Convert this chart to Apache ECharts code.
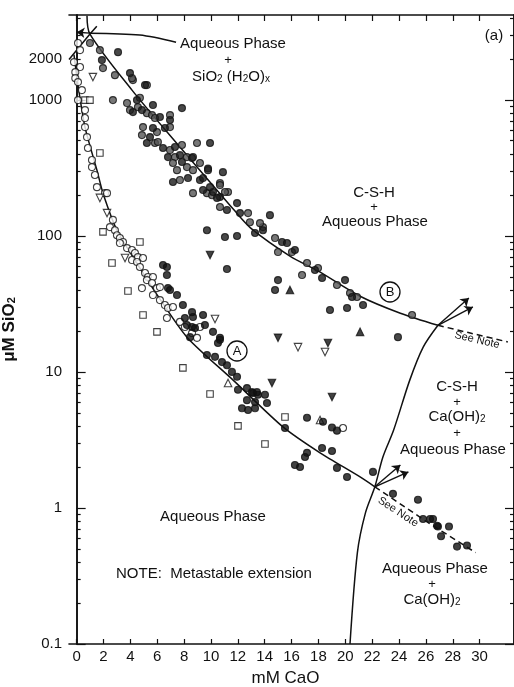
<!DOCTYPE html>
<html><head><meta charset="utf-8">
<script src="https://cdn.jsdelivr.net/npm/echarts@6/dist/echarts.min.js"></script>
<style>html,body{margin:0;padding:0;background:#fff}#c{width:514px;height:687px}</style>
</head><body><div id="c"></div>
<script>
// ---------- tick labels ----------
const xTickValues = [0,2,4,6,8,10,12,14,16,18,20,22,24,26,28,30];
const yLabelValues = [0.1,1,10,100,1000,2000];
const yMajorTicks = [0.1,1,10,100,1000];
const yMinorTicks = [0.2,0.3,0.4,0.5,0.6,0.7,0.8,0.9,2,3,4,5,6,7,8,9,20,30,40,50,60,70,80,90,200,300,400,500,600,700,800,900,2000,3000,4000];
const yMaxValue = 4200;

// ---------- data points: [mM CaO, uM SiO2] ----------
const filledCircles = [[6.43,61],[6.72,59],[6.72,51.5],[6.80,41.3],[6.95,40],[7.47,36.7],[7.91,31],[8.59,27.5],[9.41,26.2],[8.66,25.3],[8.06,24.9],[8.21,22.1],[9.55,22.1],[10.15,19.7],[10.67,17.8],[10.52,16.3],[10.82,11.8],[11.19,11.2],[11.56,10],[11.94,9.2],[12.01,7.4],[12.68,7.6],[13.13,7.0],[13.5,6.8],[12.31,5.4],[12.76,5.25],[13.28,5.4],[8.44,18],[10.67,17.2],[9.70,13.3],[10.30,12.9],[13.05,7.1],[13.42,7.1],[14.02,6.8],[12.68,6.2],[13.28,6.0],[14.17,5.9],[17.15,4.6],[18.34,4.3],[19.01,3.9],[19.38,3.7],[15.51,3.87],[17.15,2.54],[17.0,2.37],[18.27,2.76],[19.01,2.62],[16.25,2.07],[16.63,2.0],[19.38,1.97],[20.13,1.69],[22.06,1.84],[23.55,1.27],[25.41,1.15],[25.79,0.83],[26.31,0.83],[26.53,0.83],[26.83,0.74],[26.9,0.73],[27.72,0.73],[27.13,0.62],[28.32,0.52],[29.06,0.53],[8.59,21.4],[8.81,21.0]];
const bFilled = [[1.88,1958],[3.08,2240],[3.97,1571],[5.09,1282],[4.49,995],[4.86,840],[5.68,915],[6.20,747],[6.95,710],[7.84,869],[5.46,532],[6.57,620],[5.23,481],[6.43,442],[7.32,450],[6.80,379],[7.69,392],[8.59,373],[7.84,349],[9.93,481],[7.17,249],[9.18,257],[10.89,294],[9.41,217],[10.15,210],[10.67,193],[10.45,190],[9.93,228],[9.41,266],[9.78,312],[8.29,266],[5.68,620],[4.19,812],[9.70,110],[11.94,99.7],[11.19,155],[11.94,174],[12.16,147],[13.28,105],[14.39,142],[13.87,110],[15.29,90],[15.66,88.5],[16.25,78.7],[17.74,56.1],[18.27,49],[19.98,47.3],[20.5,35.5],[21.32,31],[14.99,47.3],[14.77,40],[18.86,28.5],[20.13,29.5],[23.92,18],[11.04,98],[11.19,57]];
const bShaded = [[0.99,2612],[1.73,2318],[1.96,1710],[2.85,1518],[4.19,1396],[2.70,995],[3.75,946],[4.56,884],[3.97,840],[5.23,798],[4.94,630],[5.61,772],[5.83,734],[6.95,772],[4.86,550],[5.98,579],[6.95,630],[5.83,481],[6.95,427],[7.84,465],[7.32,379],[8.21,379],[7.17,343],[8.66,379],[8.96,481],[7.47,304],[7.69,257],[8.21,320],[9.78,304],[10.67,244],[8.66,206],[9.70,206],[11.27,210],[10.08,199],[11.04,210],[10.67,236],[8.66,304],[9.18,343],[6.05,490],[4.12,1443],[5.23,1282],[4.71,1034],[10.67,163],[12.76,147],[12.9,126],[13.87,116],[13.65,124],[14.77,96.3],[14.99,76],[16.03,76],[17.15,63.1],[17.97,58],[19.38,43.5],[20.35,38],[20.87,35.5],[24.97,26.2],[16.78,51.5]];
const openCircles = [[0.10,2612],[0.25,2318],[-0.2,1892],[0.25,1740],[-0.1,1597],[-0.1,1443],[0.10,1349],[0.39,1178],[0.10,995],[0.62,840],[0.62,734],[0.62,630],[0.77,532],[0.84,442],[1.14,361],[1.14,320],[1.36,280],[1.51,228],[2.11,206],[2.26,206],[2.70,131],[2.48,116],[2.85,110],[3.0,101],[3.22,96.3],[3.45,90],[3.22,88.5],[3.75,81.3],[4.12,78.7],[4.34,74.8],[4.56,69.8],[4.94,68.7],[4.12,66.4],[4.49,64.2],[4.71,59],[5.09,53.3],[5.31,49.8],[5.68,49.8],[5.23,47.3],[5.61,45],[4.86,41.3],[5.98,41.3],[6.2,42],[5.68,36.7],[6.2,33.7],[6.57,31],[6.8,29.5],[7.17,30],[7.69,23.3],[8.06,21.4],[9.18,21.4],[8.59,19.3],[8.96,17.8],[6.72,24.9],[19.83,3.87]];
const openSquares = [[0.62,995],[0.99,995],[1.73,406],[1.96,107],[2.63,63.1],[4.71,90],[3.82,39.3],[4.94,26.2],[5.98,19.7],[7.91,10.7],[9.93,6.88],[12.01,4.01],[15.51,4.66],[14.02,2.95]];
const openDownTriangles = [[1.21,1468],[16.48,15.2],[18.49,14.0],[10.3,24.5],[1.73,190],[2.26,147],[3.6,68.7]];
const filledDownTriangles = [[9.93,72.3],[14.99,17.8],[18.71,16.3],[14.54,8.28],[19.01,6.54]];
const filledUpTriangles = [[15.88,40],[21.1,19.7]];
const openUpTriangles = [[11.27,8.28],[18.12,4.43]];

// ---------- curves ----------
const curveA = [[-0.2,2150],[0.1,1282],[0.62,630],[1.51,304],[1.96,206],[3.0,110],[4.34,66.4],[5.98,37],[8.21,18],[11.65,8.7],[15.36,3.94],[18.12,2.54],[21.1,1.69],[22.2,1.43]];
const curveAExt = [[22.2,1.43],[26.0,0.80],[29.7,0.47]];
const curveB = [[0.77,4150],[0.99,3040],[4.12,1178],[7.48,475],[10.0,244],[11.79,152],[13.05,112],[15.88,71],[18.0,55],[21.1,36],[24.1,27],[26.9,22]];
const curveBExt = [[26.9,22],[29.3,19.3],[32.1,16.6]];
const silicaLine = [[1.5,3470],[0.99,3040],[-0.57,1975]];
const caOHLine = [[20.35,0.1],[20.9,0.47],[21.5,0.92],[22.2,1.43],[22.8,2.37],[23.6,3.74],[24.8,8.7],[25.8,15.2],[26.9,22]];
const leaderLine = [[7.4,2650],[4.7,2990],[0.99,3090]];
const arrowSegments = [
  [[0.99,3090],[0.0,3140]],
  [[22.2,1.43],[24.1,2.07]],
  [[22.2,1.43],[24.7,1.84]],
  [[26.9,22],[29.2,34.9]],
  [[26.9,22],[29.5,30]]
];

// ---------- build ----------
const L = v => Math.log10(v);
const tr = arr => arr.map(d => [d[0], L(d[1])]);
const INK = '#111';
const FONT = 'Liberation Sans, Arial, Helvetica, sans-serif';
const yMin = -1, yMax = L(yMaxValue);
const xMin = -0.57, xMax = 32.56;

function scatter(name, data, symbol, fill, opts) {
  return Object.assign({
    type: 'scatter', name, data: tr(data), symbol, symbolSize: 7,
    itemStyle: {color: fill, borderColor: INK, borderWidth: 1.1},
    silent: true, z: 5
  }, opts || {});
}
function line(name, data, dashed, smooth) {
  return {
    type: 'line', name, data: tr(data), showSymbol: false, symbol: 'none',
    smooth: smooth || 0, silent: true, z: 3,
    lineStyle: {color: INK, width: 1.5, type: dashed ? [6, 4] : 'solid'}
  };
}
const yAxisBase = (pos, vals, len, labels) => ({
  type: 'value', position: pos, min: yMin, max: yMax,
  axisLine: {show: true, lineStyle: {color: INK, width: 1.6}},
  axisTick: {show: true, inside: true, length: len, customValues: vals.map(L), lineStyle: {color: INK, width: 1.2}},
  axisLabel: labels ? {
    show: true, customValues: yLabelValues.map(L), fontSize: 15, color: INK, fontFamily: FONT, margin: 7,
    formatter: v => { const p = Math.pow(10, v); return p < 0.5 ? '0.1' : String(Math.round(p)); }
  } : {show: false},
  splitLine: {show: false}
});
const xAxisBase = (pos, len, labels) => ({
  type: 'value', position: pos, min: xMin, max: xMax,
  axisLine: {show: true, onZero: false, lineStyle: {color: INK, width: 1.6}},
  axisTick: {show: true, inside: true, length: len, customValues: xTickValues, lineStyle: {color: INK, width: 1.2}},
  axisLabel: labels ? {show: true, customValues: xTickValues, fontSize: 15, color: INK, fontFamily: FONT, margin: 5} : {show: false},
  splitLine: {show: false}
});

const xAx0 = xAxisBase('bottom', 5, true);
xAx0.name = 'mM CaO'; xAx0.nameLocation = 'middle'; xAx0.nameGap = 26;
xAx0.nameTextStyle = {fontSize: 17, color: INK, fontFamily: FONT, padding: [0, 12, 0, 0]};
const yAx0 = yAxisBase('left', yMinorTicks, 4, true);
yAx0.name = 'μM SiO{s|2}'; yAx0.nameLocation = 'middle'; yAx0.nameGap = 34;
yAx0.nameTextStyle = {fontSize: 17, fontWeight: 'bold', color: INK, fontFamily: FONT,
  rich: {s: {fontSize: 11, fontWeight: 'bold', verticalAlign: 'bottom', color: INK, fontFamily: FONT}}};

const txt = (x, y, text, size, extra) => Object.assign({
  type: 'text', x, y, silent: true, z: 10,
  style: {text, fill: INK, fontSize: size || 15, fontFamily: FONT, align: 'center', verticalAlign: 'middle',
    rich: {s: {fontSize: 10, verticalAlign: 'bottom', fill: INK, fontFamily: FONT}}}
}, extra || {});
const circ = (cx, cy, letter) => ([
  {type: 'circle', shape: {cx, cy, r: 10}, style: {fill: '#fff', stroke: INK, lineWidth: 1.3}, z: 10, silent: true},
  txt(cx, cy + 0.5, letter, 13)
]);

const graphics = [
  txt(233, 44, 'Aqueous Phase'),
  txt(228, 60, '+', 13),
  txt(231, 77, 'SiO{s|2} (H{s|2}O){s|x}'),
  txt(494, 36, '(a)'),
  txt(374, 193, 'C-S-H'),
  txt(374, 207, '+', 13),
  txt(375, 222, 'Aqueous Phase'),
  ...circ(390, 292, 'B'),
  ...circ(237, 351, 'A'),
  txt(477, 340, 'See Note', 11, {rotation: -0.23}),
  txt(457, 387, 'C-S-H'),
  txt(457, 402, '+', 13),
  txt(457, 417, 'Ca(OH){s|2}'),
  txt(457, 433, '+', 13),
  txt(453, 450, 'Aqueous Phase'),
  txt(398, 512, 'See Note', 11, {rotation: -0.58}),
  txt(213, 517, 'Aqueous Phase'),
  txt(214, 574, 'NOTE:  Metastable extension'),
  txt(435, 569, 'Aqueous Phase'),
  txt(432, 584, '+', 13),
  txt(432, 600, 'Ca(OH){s|2}')
];

const series = [
  line('Curve A', curveA, false, 0.25),
  line('Curve A metastable', curveAExt, true),
  line('Curve B', curveB, false, 0.3),
  line('Curve B metastable', curveBExt, true, 0.2),
  line('SiO2 solubility', silicaLine, false),
  line('Ca(OH)2 solubility', caOHLine, false, 0.3),
  line('Leader', leaderLine, false, 0.3),
  {
    type: 'line', name: 'Arrows', data: [], silent: true, z: 4,
    markLine: {
      silent: true, symbol: ['none', 'arrow'], symbolSize: 8, animation: false,
      label: {show: false},
      lineStyle: {color: INK, width: 1.4, type: 'solid'},
      itemStyle: {color: INK},
      data: arrowSegments.map(s => [{coord: [s[0][0], L(s[0][1])]}, {coord: [s[1][0], L(s[1][1])]}])
    }
  },
  scatter('Open circles', openCircles, 'circle', '#fff'),
  scatter('Open squares', openSquares, 'rect', '#fff', {symbolSize: 6.5}),
  scatter('Open down triangles', openDownTriangles, 'triangle', '#fff', {symbolRotate: 180, symbolSize: 7.5}),
  scatter('Open up triangles', openUpTriangles, 'triangle', '#fff', {symbolSize: 7.5}),
  scatter('Shaded circles', bShaded, 'circle', '#555'),
  scatter('Filled circles B', bFilled, 'circle', '#1a1a1a'),
  scatter('Filled circles', filledCircles, 'circle', '#111'),
  scatter('Filled down triangles', filledDownTriangles, 'triangle', INK, {symbolRotate: 180, symbolSize: 7.5}),
  scatter('Filled up triangles', filledUpTriangles, 'triangle', INK, {symbolSize: 7.5})
];

const chart = echarts.init(document.getElementById('c'), null, {renderer: 'canvas'});
chart.setOption({
  backgroundColor: '#fff',
  animation: false,
  grid: {left: 69, right: 0, top: 15, bottom: 43, containLabel: false, outerBoundsMode: 'none'},
  xAxis: [xAx0, xAxisBase('top', 6, false)],
  yAxis: [yAx0, yAxisBase('left', yMajorTicks, 9, false), yAxisBase('right', yMinorTicks, 4, false), yAxisBase('right', yMajorTicks, 9, false)],
  series,
  graphic: graphics
});
</script>
</body></html>
